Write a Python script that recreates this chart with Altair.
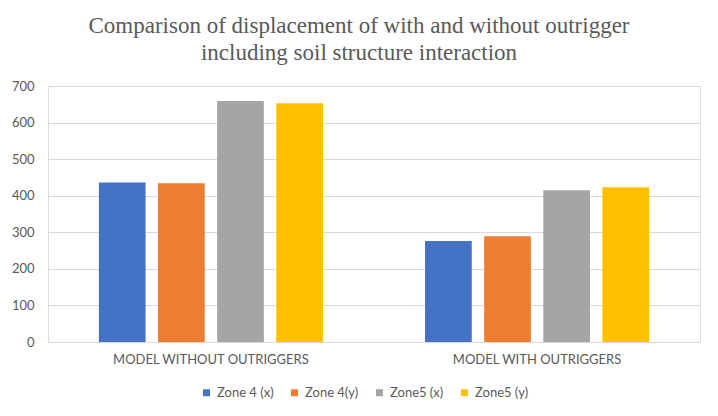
import altair as alt
import pandas as pd

categories = ["MODEL WITHOUT OUTRIGGERS", "MODEL WITH OUTRIGGERS"]
series_names = ["Zone 4 (x)", "Zone 4(y)", "Zone5 (x)", "Zone5 (y)"]
zone4_x = [436, 276]
zone4_y = [434, 289]
zone5_x = [659, 415]
zone5_y = [653, 423]
colors = ["#4472C4", "#ED7D31", "#A5A5A5", "#FFC000"]

rows = []
for name, vals in zip(series_names, [zone4_x, zone4_y, zone5_x, zone5_y]):
    for cat, v in zip(categories, vals):
        rows.append({"model": cat, "series": name, "value": v})
df = pd.DataFrame(rows)

font = "Lato"
grey = "#595959"

chart = alt.Chart(df).mark_bar().encode(
    x=alt.X("model:N", sort=categories, title=None,
            scale=alt.Scale(paddingInner=0.313, paddingOuter=0.156),
            axis=alt.Axis(labelAngle=0, ticks=False, domain=True, domainColor="#D9D9D9",
                          labelPadding=11, labelFontSize=13, labelColor=grey, labelFont=font,
                          labelLimit=0)),
    xOffset=alt.XOffset("series:N", sort=series_names,
                        scale=alt.Scale(paddingInner=0.21, paddingOuter=0)),
    y=alt.Y("value:Q", title=None,
            scale=alt.Scale(domain=[0, 700]),
            axis=alt.Axis(values=[0, 100, 200, 300, 400, 500, 600, 700], ticks=False, domain=False,
                          gridColor="#D9D9D9", labelPadding=14, labelFontSize=13,
                          labelColor=grey, labelFont=font)),
    color=alt.Color("series:N", sort=series_names,
                    scale=alt.Scale(domain=series_names, range=colors),
                    legend=alt.Legend(title=None, orient="none", direction="horizontal",
                                      legendX=152, legendY=300, symbolType="square",
                                      symbolSize=49, symbolStrokeWidth=0, labelFontSize=13,
                                      labelColor=grey, labelFont=font, columnPadding=14,
                                      labelOffset=4)),
).properties(
    width=652,
    height=256,
    padding={"left": 40, "top": 78, "right": 10, "bottom": 66},
    autosize=alt.AutoSizeParams(type="none"),
    title=alt.TitleParams(
        text=["Comparison of displacement of with and without outrigger",
              "including soil structure interaction"],
        font="Liberation Serif", fontSize=23, fontWeight="normal", color=grey,
        anchor="middle", offset=15, lineHeight=27, dx=-15),
).configure_view(stroke=None).configure(background="white")

chart.save("out.html", embed_options={"renderer": "svg", "actions": False})
